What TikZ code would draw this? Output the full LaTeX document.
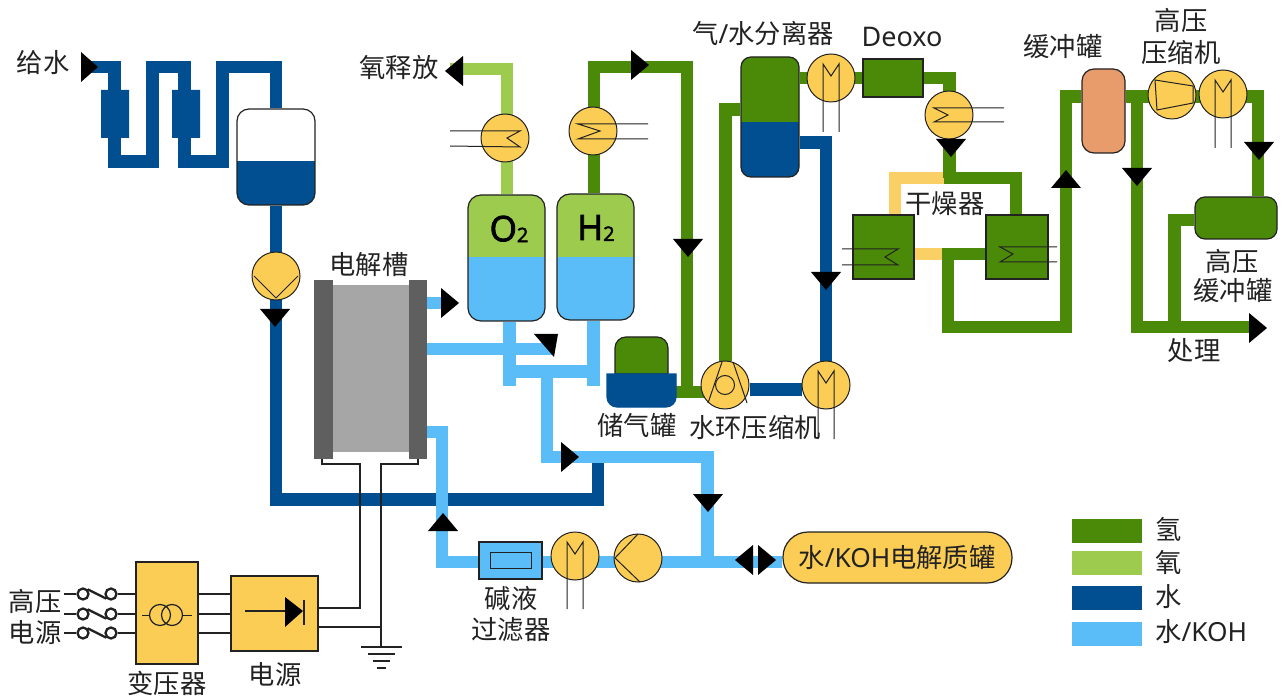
\documentclass[tikz,border=0pt]{standalone}
\usepackage{fontspec}
\setmainfont{Noto Sans CJK SC}
\newfontfamily\lat{Noto Sans}
\newfontfamily\latb{Open Sans}[AutoFakeBold=2.5]
\usetikzlibrary{backgrounds,calc}
\definecolor{hgreen}{HTML}{4B8A08}
\definecolor{ogreen}{HTML}{9CCB4E}
\definecolor{wblue}{HTML}{014F90}
\definecolor{kblue}{HTML}{5BBDF8}
\definecolor{yel}{HTML}{FBCD55}
\definecolor{dryyel}{HTML}{F9CF66}
\definecolor{peach}{HTML}{E89C6C}
\definecolor{ink}{HTML}{222222}
\definecolor{plate}{HTML}{5F5F5F}
\definecolor{core}{HTML}{A6A6A6}
\tikzset{
  x=1pt,y=-1pt,
  pipe/.style={line width=12.5pt,line join=miter,line cap=butt},
  hpipe/.style={pipe,draw=hgreen},
  opipe/.style={pipe,draw=ogreen},
  wpipe/.style={pipe,draw=wblue},
  kpipe/.style={pipe,draw=kblue},
  ypipe/.style={pipe,draw=dryyel},
  disc/.style={circle,draw=ink,line width=1pt,fill=yel,minimum size=48pt,inner sep=0pt},
  sym/.style={draw=ink,line width=1pt},
  wire/.style={draw=ink,line width=2.3pt},
  tip/.style={fill=black,draw=none},
  lbl/.style={inner sep=0pt,text=ink,font=\fontsize{26.3}{30}\selectfont,align=center},
  box/.style={draw=ink,line width=1.2pt,inner sep=0pt},
}
\newcommand\arR[2]{\fill[tip] (#1,#2) -- ++(-18,-15) -- ++(0,30) -- cycle;}
\newcommand\arL[2]{\fill[tip] (#1,#2) -- ++(18,-15) -- ++(0,30) -- cycle;}
\newcommand\arD[2]{\fill[tip] (#1,#2) -- ++(-15,-18) -- ++(30,0) -- cycle;}
\newcommand\arU[2]{\fill[tip] (#1,#2) -- ++(-15,18) -- ++(30,0) -- cycle;}
% name, x1,y1,x2,y2, ysplit, radius, top colour, bottom colour
\newcommand\vessel[9]{%
  \coordinate (#1split) at (0,#6);
  \node[box,rounded corners=#7pt,fill=#8,minimum width={#4-#2},minimum height={#5-#3},
    path picture={\fill[#9,sharp corners] (#1split -| path picture bounding box.west) rectangle (path picture bounding box.south east);}]
    (#1) at ({(#2+#4)/2},{(#3+#5)/2}) {};}
\newcommand\rectnode[6]{%
  \node[box,fill=#6,minimum width={#4-#2},minimum height={#5-#3}] (#1) at ({(#2+#4)/2},{(#3+#5)/2}) {};}
\newcommand\mpump[4]{% name,x,y,bottom offset
  \node[disc] (#1) at (#2,#3) {};
  \draw[sym,shift={(#2,#3)}] (-8,#4) -- (-8,-14) -- (0,-2) -- (8,-14) -- (8,#4);}
\begin{document}
\begin{tikzpicture}
\useasboundingbox (0,0) rectangle (1287,700);

% ---------- equipment ----------
\vessel{feedtank}{237}{109}{315}{205}{161}{12}{white}{wblue}
\node[disc] (feedpump) at (276,276) {};
\draw[sym,shift={(feedpump)}] (-22,0) -- (0,22) -- (22,0);

\node[draw=none,fill=plate,minimum width=19pt,minimum height=179pt,inner sep=0pt] (plateL) at (323.5,369.5) {};
\node[draw=none,fill=plate,minimum width=18pt,minimum height=179pt,inner sep=0pt] (plateR) at (418,369.5) {};
\node[draw=none,fill=core,minimum width=76pt,minimum height=167pt,inner sep=0pt] (cell) at (371,368.5) {};

\vessel{otank}{468}{195}{545}{321}{257}{13}{ogreen}{kblue}
\vessel{htank}{557}{194}{634}{320}{257}{13}{ogreen}{kblue}
\node[font=\latb\bfseries\fontsize{35}{35}\selectfont,text=black,inner sep=0pt] (otext) at (509,229) {O\raisebox{-1pt}{\fontsize{20}{20}\selectfont 2}};
\node[font=\latb\bfseries\fontsize{35}{35}\selectfont,text=black,inner sep=0pt] (htext) at (596,228) {H\raisebox{-1pt}{\fontsize{20}{20}\selectfont 2}};

\node[disc] (ohx) at (505,138) {};
\draw[sym] (450,131) -- (520,131) -- (507,138) -- (520,147) -- (450,146);
\node[disc] (hhx) at (593,131) {};
\draw[sym] (648,124) -- (578,124) -- (600,131) -- (578,139) -- (648,139);

\vessel{sep}{741}{57}{799}{177}{122}{10}{hgreen}{wblue}
\mpump{sepm}{831}{78}{54}
\rectnode{deoxo}{863}{59}{923}{97}{hgreen}
\node[disc] (dhx) at (949,115) {};
\draw[sym] (1004,108) -- (934,108) -- (948,115) -- (934,122) -- (1004,122);

\rectnode{dryL}{853}{215}{914}{279}{hgreen}
\rectnode{dryR}{986}{215}{1048}{279}{hgreen}
\draw[sym] (842,249) -- (898,249) -- (885,257) -- (898,265) -- (842,265);
\draw[sym] (1057,247) -- (1000,247) -- (1013,254) -- (1000,262) -- (1057,262);

\node[box,rounded corners=12pt,fill=peach,minimum width=43pt,minimum height=84pt] (buffer) at (1103.5,111) {};
\node[disc] (hpcomp) at (1172,95) {};
\draw[sym] (1155,80) -- (1193,86) -- (1193,103) -- (1157,110) -- cycle;
\mpump{hpm}{1223}{94}{54}
\node[box,rounded corners=10pt,fill=hgreen,minimum width=82pt,minimum height=42pt] (hptank) at (1236,218) {};

\node[minimum width=69pt,minimum height=33pt,inner sep=0pt] (store) at (641.5,390.5) {};
\filldraw[fill=hgreen,draw=ink,line width=1.2pt] (615,374) [rounded corners=11pt] -- (615,337) -- (668,337) [sharp corners] -- (668,374) -- cycle;
\filldraw[fill=wblue,draw=wblue,line width=1.2pt] (607,374) -- (676,374) [rounded corners=10pt] -- (676,407) -- (607,407) [sharp corners] -- cycle;
\node[disc] (ring) at (725,385) {};
\draw[sym] (708,403) -- (722,362) (733,362) -- (747,403);
\node[circle,sym,minimum size=19pt,inner sep=0pt] (ringin) at (725,385) {};
\mpump{ringm}{826}{385}{54}

\rectnode{filter}{479}{542}{542}{579}{kblue}
\node[draw=ink,line width=1pt,minimum width=41pt,minimum height=16pt,inner sep=0pt] (filterin) at (510.5,560) {};
\mpump{kohm}{575}{556}{53}
\node[disc] (kohp) at (638,558) {};
\draw[sym] (638,534) -- (615,558) -- (640,582);
\node[box,rounded corners=25pt,fill=yel,minimum width=229pt,minimum height=51pt] (kohtank) at (897.5,557.5) {};

\rectnode{trafo}{136}{562}{198}{664}{yel}
\rectnode{power}{231}{576}{318}{651}{yel}
\draw[sym,line width=1.2pt] (160,615) circle (10.5) (172,615) circle (10.5);
\draw[sym] (142,615) -- (149.5,615) (182.5,615) -- (192,615);
\draw[wire] (245,611) -- (285,611);
\fill[black] (285,597) -- (303,611) -- (285,627) -- cycle;
\draw[wire] (304,600) -- (304,625);

% ---------- pipes ----------
\begin{scope}[on background layer]
\fill[white] (0,0) rectangle (1287,700);
\coordinate (feedin) at (90,67);
\coordinate (orelease) at (450,69);
\coordinate (kohleft) at (776,562);
\coordinate (hpout) at (1255,327);
% yellow dryer lines
\draw[ypipe] (949,178) -- (895,178) -- (dryL.north -| 895,0);
\draw[ypipe] (dryL.east |- 0,254) -- (949,254);
% hydrogen
\draw[hpipe] (htank.north -| 594,0) -- (594,67) -- (687,67) -- (687,392) -- (store.east |- 0,392);
\draw[hpipe] (store.east |- 0,392) -- (ring |- 0,392);
\draw[hpipe] (ring.north -| 725.5,0) -- (725.5,109.5) -- (sep.west |- 0,109.5);
\draw[hpipe] (sep.east |- 0,78) -- (deoxo.west |- 0,78);
\draw[hpipe] (deoxo.east |- 0,78) -- (949.5,78) -- (949.5,178);
\draw[hpipe] (943.5,178) -- (1016,178) -- (dryR.north -| 1016,0);
\draw[hpipe] (dryR.west |- 0,254) -- (948,254) -- (948,327) -- (1066,327) -- (1066,96.5) -- (buffer.west |- 0,96.5);
\draw[hpipe] (buffer.east |- 0,96.5) -- (hpcomp |- 0,96.5);
\draw[hpipe] (hpcomp |- 0,96.5) -- (1258,96.5) -- (hptank.north -| 1258,0);
\draw[hpipe] (1137,96.5) -- (1137,327) -- (hpout);
\draw[hpipe] (hptank.west |- 0,220) -- (1174.5,220) -- (1174.5,327);
% oxygen
\draw[opipe] (otank.north -| 507,0) -- (507,69) -- (orelease);
% water
\draw[wpipe] (feedin) -- (114.5,67) -- (114.5,161.5) -- (152.5,161.5) -- (152.5,67) -- (184.5,67) -- (184.5,161.5) -- (222.5,161.5) -- (222.5,67) -- (276,67) -- (feedtank.north);
\fill[wblue] (101,90) rectangle (129,138) (172,90) rectangle (200,138);
\draw[wpipe] (feedtank.south) -- (276,499.5) -- (598,499.5) -- (598,457);
\draw[wpipe] (sep.east |- 0,142.5) -- (826,142.5) -- (ringm.north);
\draw[wpipe] (ring.east |- 0,389.5) -- (ringm.west |- 0,389.5);
% KOH
\draw[kpipe] (plateR.east |- 0,303) -- (445,303);
\draw[kpipe] (plateR.east |- 0,349) -- (552,349);
\draw[kpipe] (otank.south -| 509.5,0) -- (509.5,386);
\draw[kpipe] (htank.south -| 593.5,0) -- (593.5,386);
\draw[kpipe] (503,371.5) -- (600,371.5);
\draw[kpipe] (547,371.5) -- (547,457) -- (707.5,457) -- (707.5,562);
\draw[kpipe] (plateR.east |- 0,432) -- (442,432) -- (442,562) -- (filter.west |- 0,562);
\draw[kpipe] (filter.east |- 0,562) -- (kohleft);
\draw[kpipe] (kohleft) -- (kohtank.west |- 0,562);
\end{scope}

% ---------- wires ----------
\draw[wire] (plateL.south -| 322,0) -- (322,464) -- (360,464) -- (360,608) -- (power.east |- 0,608);
\draw[wire] (plateR.south -| 418,0) -- (418,464) -- (381,464) -- (381,647);
\draw[wire] (power.east |- 0,627) -- (381,627);
\coordinate (gnd) at (381,647);
\draw[wire] (gnd) ++(-20.5,0) -- ++(41,0);
\draw[wire] (381,654) ++(-13.5,0) -- ++(27,0);
\draw[wire] (381,661) ++(-8.5,0) -- ++(17,0);
\draw[wire] (381,668) ++(-4.5,0) -- ++(9,0);
\foreach \yy/\nn in {594/a,614/b,633/c}{
  \draw[wire] (trafo.east |- 0,\yy) -- (power.west |- 0,\yy);
  \node[circle,wire,minimum size=11pt,inner sep=0pt] (swl\nn) at (83,\yy) {};
  \node[circle,wire,minimum size=11pt,inner sep=0pt] (swr\nn) at (111,\yy) {};
  \draw[wire] (64,\yy) -- (swl\nn.west);
  \draw[wire] (swr\nn.east) -- (trafo.west |- 0,\yy);
  \draw[wire] (swl\nn.north east) -- (swr\nn.south west);
}

% ---------- flow arrows ----------
\fill[tip] (98,67) -- (81,52) -- (81,82) -- cycle;
\arD{275}{327}
\arL{445}{71}
\arR{649}{65}
\arD{688}{257}
\arD{826}{290}
\arD{951}{157}
\arU{1066}{170}
\arD{1137}{186}
\arD{1259}{160}
\arR{1267}{328}
\arR{459}{303}
\fill[tip] (534,334) -- (558,334) -- (554,357) -- cycle;
\arR{579}{457}
\arD{708}{512}
\arU{443}{513}
\arL{735}{560}
\arR{776}{560}

% ---------- labels ----------
\node[lbl] (tfeed) at (43,63) {给水};
\node[lbl] (torel) at (399,68) {氧释放};
\node[lbl] (tcell) at (369,265) {电解槽};
\node[lbl] (tsep) at (763,33) {气{\lat /}水分离器};
\node[lbl,font=\lat\fontsize{27}{30}\selectfont] (tdeoxo) at (902,37) {Deoxo};
\node[lbl] (tbuf) at (1063,47) {缓冲罐};
\node[lbl] (thp1) at (1181,20) {高压};
\node[lbl] (thp2) at (1181,52) {压缩机};
\node[lbl] (tdry) at (945,204) {干燥器};
\node[lbl] (thb1) at (1232,261) {高压};
\node[lbl] (thb2) at (1233,291) {缓冲罐};
\node[lbl] (tproc) at (1194,351) {处理};
\node[lbl] (tstore) at (637,425) {储气罐};
\node[lbl] (tring) at (755,427) {水环压缩机};
\node[lbl] (tf1) at (511,598) {碱液};
\node[lbl] (tf2) at (511,630) {过滤器};
\node[lbl] (tkoh) at (897,558) {水{\lat /KOH}电解质罐};
\node[lbl] (tsrc1) at (35,601) {高压};
\node[lbl] (tsrc2) at (35,633) {电源};
\node[lbl] (ttr) at (167,683) {变压器};
\node[lbl] (tpw) at (275,675) {电源};

% ---------- legend ----------
\foreach \yy/\cc/\nn in {530.5/hgreen/la,562.5/ogreen/lb,597.5/wblue/lc,633.5/kblue/ld}{
  \node[fill=\cc,minimum width=70pt,minimum height=24pt,inner sep=0pt] (\nn) at (1107,\yy) {};
}
\node[lbl,anchor=west] (tla) at (1155,529) {氢};
\node[lbl,anchor=west] (tlb) at (1155,563) {氧};
\node[lbl,anchor=west] (tlc) at (1155,597) {水};
\node[lbl,anchor=west] (tld) at (1155,632) {水{\lat /KOH}};
\end{tikzpicture}
\end{document}
